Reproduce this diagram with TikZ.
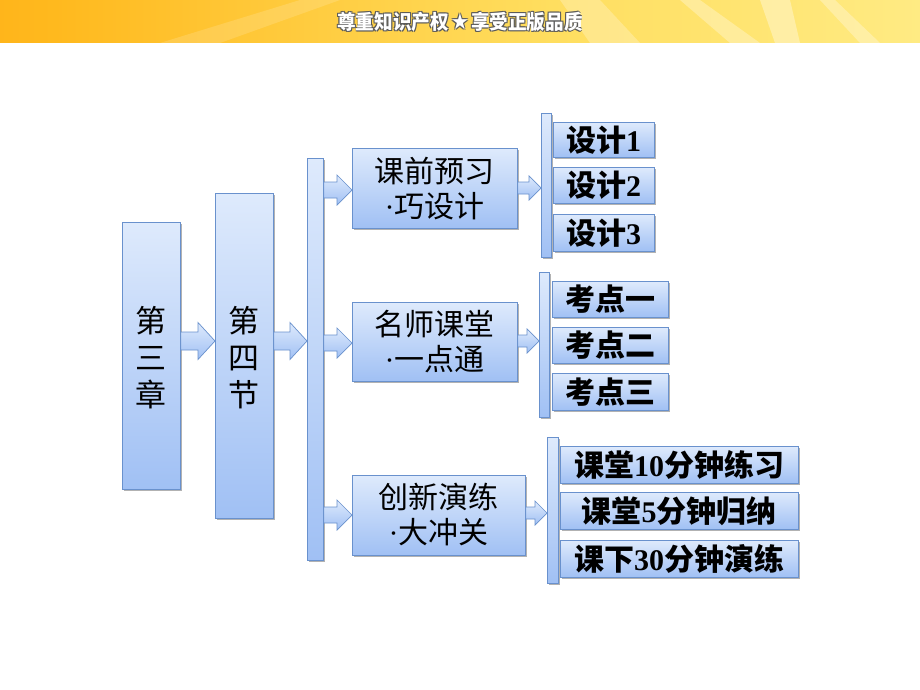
\documentclass[tikz,border=0pt]{standalone}
\usepackage{fontspec}
\setmainfont{Liberation Serif}
\newfontfamily\cjk{Noto Sans CJK SC}
\newfontfamily\sym{DejaVu Sans}
\usetikzlibrary{shadows,calc}
\definecolor{boxtop}{RGB}{222,234,252}
\definecolor{boxbot}{RGB}{160,192,244}
\definecolor{bordercol}{RGB}{105,145,205}
\definecolor{bo1}{RGB}{255,150,0}
\definecolor{bo2}{RGB}{255,185,30}
\definecolor{bo3}{RGB}{255,222,95}
\definecolor{bo4}{RGB}{255,238,140}
\definecolor{bo5}{RGB}{253,215,90}
\definecolor{olc}{RGB}{90,90,90}
\pgfdeclarehorizontalshading{banner}{100bp}{color(0bp)=(bo1); color(28bp)=(bo2); color(55bp)=(bo3); color(80bp)=(bo4); color(100bp)=(bo5)}
\newcommand\olt[1]{%
 \rlap{\kern0.9pt\raise0.9pt\hbox{\color{olc}#1}}%
 \rlap{\kern-0.9pt\raise0.9pt\hbox{\color{olc}#1}}%
 \rlap{\kern0.9pt\lower0.9pt\hbox{\color{olc}#1}}%
 \rlap{\kern-0.9pt\lower0.9pt\hbox{\color{olc}#1}}%
 \hbox{\color{white}#1}}
\newcommand\bx[6]{%
 \node[box, minimum width={(#4-#2)*1pt}, minimum height={(#5-#3)*1pt}, anchor=north west] (#1) at (#2,#3) {#6};}
\newcommand\blkarrow[6]{%
 \path[arrowstyle] let \p1=(#1.east), \p2=(#2.west) in
 (\x1,{-(#3-#4)*1pt}) -- ({\x2-#6pt},{-(#3-#4)*1pt}) -- ({\x2-#6pt},{-(#3-#5)*1pt}) -- (\x2,{-#3pt})
 -- ({\x2-#6pt},{-(#3+#5)*1pt}) -- ({\x2-#6pt},{-(#3+#4)*1pt}) -- (\x1,{-(#3+#4)*1pt}) -- cycle;}
\tikzset{
 box/.style={draw=bordercol, line width=0.8pt, top color=boxtop, bottom color=boxbot,
   drop shadow={shadow xshift=1.5pt, shadow yshift=-1.5pt, opacity=0.3, fill=black}, inner sep=0pt, align=center},
 arrowstyle/.style={draw=bordercol, line width=0.7pt, top color=boxtop, bottom color=boxbot},
 tall/.style={font=\cjk\fontsize{31}{37}\selectfont},
 mid/.style={font=\cjk\fontsize{30}{35}\selectfont},
 leaf/.style={font=\cjk\bfseries\fontsize{30}{32}\selectfont},
}
\newcommand\dg[1]{{\rmfamily\bfseries #1}}
\newcommand\dt{{\rmfamily ·}}
\begin{document}
\begin{tikzpicture}[x=1pt,y=-1pt]
\useasboundingbox (0,0) rectangle (920,690);
\fill[white] (0,0) rectangle (920,690);
% banner
\shade[shading=banner] (0,0) rectangle (920,43);
\fill[white,opacity=0.25] (560,0) -- (600,0) -- (640,43) -- (590,43) -- cycle;
\fill[white,opacity=0.3] (680,0) -- (700,0) -- (760,43) -- (730,43) -- cycle;
\fill[white,opacity=0.35] (760,0) -- (790,0) -- (800,43) -- (775,43) -- cycle;
\fill[white,opacity=0.3] (820,0) -- (835,0) -- (880,43) -- (860,43) -- cycle;
\fill[white,opacity=0.15] (160,43) -- (300,0) -- (340,0) -- (220,43) -- cycle;
\node[font=\cjk\bfseries\fontsize{20}{22}\selectfont, xscale=0.93, transform shape] (banner) at (460,22)
  {\olt{尊重知识产权}\kern2pt\raisebox{0pt}{\olt{\sym\fontsize{22}{22}\selectfont ★}}\kern2pt\olt{享受正版品质}};
% first level
\bx{c3}{122}{222}{180}{489}{}
\node[tall, align=center] (c3t) at (151,358) {第\\三\\章};
\bx{s4}{215}{193}{273}{518}{}
\node[tall, align=center] (s4t) at (244,358) {第\\四\\节};
% bars
\bx{bar1}{307}{158}{323}{560}{}
\bx{bar2}{541}{113}{551}{257}{}
\bx{bar3}{539}{272}{549}{417}{}
\bx{bar4}{547}{437}{558}{583}{}
% middle boxes
\bx{m1}{352}{148}{517}{228}{}
\node[mid, align=center] (m1t) at (434.5,189) {课前预习\\\dt 巧设计};
\bx{m2}{352}{302}{517}{381}{}
\node[mid, align=center] (m2t) at (434.5,342) {名师课堂\\\dt 一点通};
\bx{m3}{352}{475}{525}{555}{}
\node[mid, align=center] (m3t) at (438.5,515) {创新演练\\\dt 大冲关};
% leaves
\bx{d1}{553}{122}{654}{157}{}
\node[leaf] (d1t) at (603.5,140) {设计\dg{1}};
\bx{d2}{553}{167}{654}{203}{}
\node[leaf] (d2t) at (603.5,185) {设计\dg{2}};
\bx{d3}{553}{214}{654}{251}{}
\node[leaf] (d3t) at (603.5,233) {设计\dg{3}};
\bx{k1}{552}{281}{668}{317}{}
\node[leaf] (k1t) at (610,299) {考点一};
\bx{k2}{552}{327}{668}{363}{}
\node[leaf] (k2t) at (610,345) {考点二};
\bx{k3}{552}{373}{668}{410}{}
\node[leaf] (k3t) at (610,392) {考点三};
\bx{e1}{560}{446}{798}{483}{}
\node[leaf] (e1t) at (679,465) {课堂\dg{10}分钟练习};
\bx{e2}{560}{492}{798}{529}{}
\node[leaf] (e2t) at (679,511) {课堂\dg{5}分钟归纳};
\bx{e3}{560}{540}{798}{577}{}
\node[leaf] (e3t) at (679,559) {课下\dg{30}分钟演练};
% block arrows
\blkarrow{c3}{s4}{341}{9}{18.5}{17}
\blkarrow{s4}{bar1}{341}{9}{18.5}{17}
\blkarrow{bar1}{m1}{190}{8}{15}{15}
\blkarrow{bar1}{m2}{343}{8}{15}{15}
\blkarrow{bar1}{m3}{515}{8}{15}{15}
\blkarrow{m1}{bar2}{188}{6}{12}{12}
\blkarrow{m2}{bar3}{341}{6}{12}{12}
\blkarrow{m3}{bar4}{513}{6}{12}{12}
\end{tikzpicture}
\end{document}
